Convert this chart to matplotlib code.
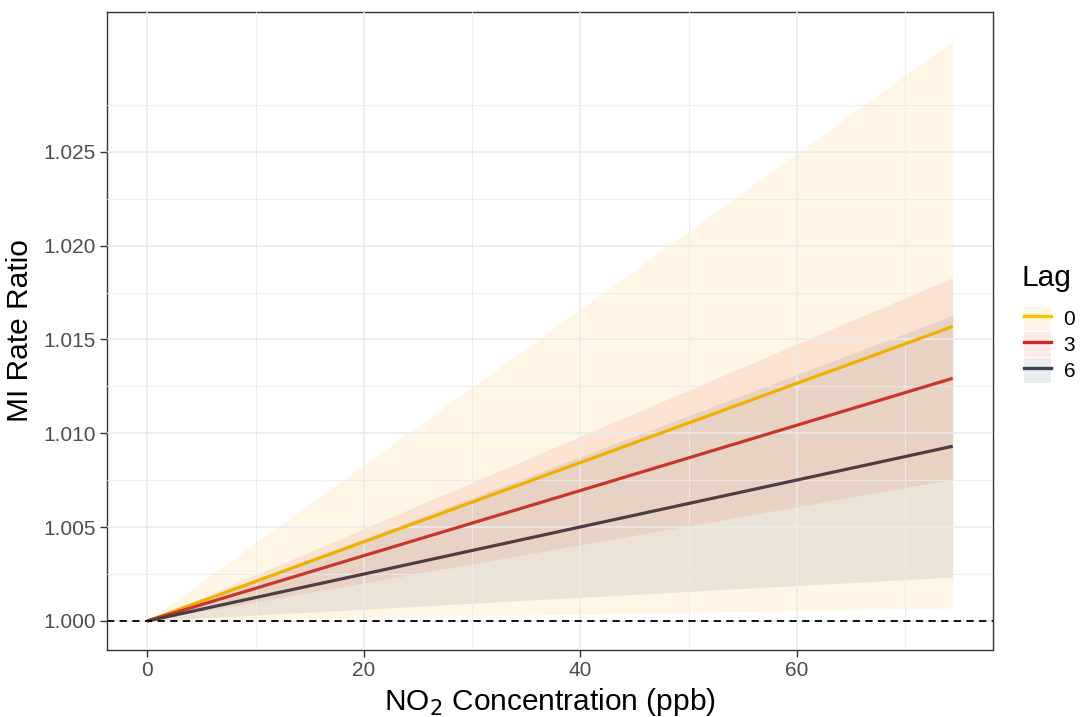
import matplotlib
matplotlib.use("Agg")
import matplotlib.pyplot as plt
from matplotlib.patches import Patch
from matplotlib.lines import Line2D
from matplotlib.legend_handler import HandlerTuple

plt.rcParams['font.family'] = ['Liberation Sans', 'DejaVu Sans']

# Data
no2 = [0, 20, 40, 60, 74.4]
lags = ["0", "3", "6"]
est_lag0 = [1.0, 1.00422, 1.00844, 1.01266, 1.01569]
lo_lag0 = [1.0, 1.00019, 1.00037, 1.00056, 1.00069]
hi_lag0 = [1.0, 1.00831, 1.01661, 1.02492, 1.0309]
est_lag3 = [1.0, 1.00348, 1.00695, 1.01043, 1.01293]
lo_lag3 = [1.0, 1.00203, 1.00406, 1.00609, 1.00755]
hi_lag3 = [1.0, 1.00492, 1.00984, 1.01476, 1.0183]
est_lag6 = [1.0, 1.0025, 1.00501, 1.00751, 1.00931]
lo_lag6 = [1.0, 1.00063, 1.00126, 1.00189, 1.00234]
hi_lag6 = [1.0, 1.00438, 1.00875, 1.01313, 1.01628]

fill_cols = ["#FFAE00", "#E8402A", "#3C4659"]
line_cols = ["#F0B000", "#C8352A", "#4E3D42"]
legend_line_cols = ["#F7C200", "#D0262A", "#3A4458"]
alpha = 0.1

fig = plt.figure(figsize=(10.88, 7.17), dpi=100)
ax = fig.add_axes([107/1088, 1 - 650/717, (993-107)/1088, (650-12)/717])

ests = [est_lag0, est_lag3, est_lag6]
los = [lo_lag0, lo_lag3, lo_lag6]
his = [hi_lag0, hi_lag3, hi_lag6]

for i in range(3):
    ax.fill_between(no2, los[i], his[i], color=fill_cols[i], alpha=alpha,
                    linewidth=0, zorder=2)
for i in range(3):
    ax.plot(no2, ests[i], color=line_cols[i], lw=2.3, zorder=4,
            solid_capstyle='butt')

ax.axhline(1.0, color='black', lw=1.3, ls=(0, (4, 3)), zorder=5)

xmin, xmax = 0, 74.4
xr = xmax - xmin
ax.set_xlim(xmin - 0.05*xr, xmax + 0.05*xr)
ymin, ymax = 1.0, 1.0309
yr = ymax - ymin
ax.set_ylim(ymin - 0.05*yr, ymax + 0.05*yr)

ax.set_xticks([0, 20, 40, 60])
ax.set_xticks([10, 30, 50, 70], minor=True)
yt = [1.000, 1.005, 1.010, 1.015, 1.020, 1.025]
ax.set_yticks(yt)
ax.set_yticklabels([f"{v:.3f}" for v in yt])
ax.set_yticks([1.0025, 1.0075, 1.0125, 1.0175, 1.0225, 1.0275], minor=True)

ax.grid(True, which='major', color='#EBEBEB', lw=1.1, zorder=1)
ax.grid(True, which='minor', color='#EBEBEB', lw=0.6, zorder=1)
ax.set_axisbelow(False)
for gl in ax.get_xgridlines() + ax.get_ygridlines():
    gl.set_zorder(3)

for s in ax.spines.values():
    s.set_color('#333333')
    s.set_linewidth(1.0)
ax.tick_params(which='major', length=5, width=1, color='#333333',
               labelsize=15, labelcolor='#4D4D4D', pad=3)
ax.tick_params(which='minor', length=0)

ax.set_xlabel(r"NO$_2$ Concentration (ppb)", fontsize=21.5, color='black', labelpad=4)
ax.set_ylabel("MI Rate Ratio", fontsize=21.5, color='black', labelpad=7)

handles = []
for i in range(3):
    p = Patch(facecolor=fill_cols[i], alpha=alpha, edgecolor='none')
    l = Line2D([0], [0], color=legend_line_cols[i], lw=2.4)
    handles.append((p, l))
fig.text(1022/1088, 1 - 278/717, "Lag", fontsize=21.5, ha='left', va='center')
leg = fig.legend(handles, lags, loc='upper left',
                 bbox_to_anchor=(1024/1088, 1 - 306/717), frameon=False,
                 handler_map={tuple: HandlerTuple(ndivide=1, pad=0)},
                 fontsize=15, handlelength=1.3,
                 handleheight=1.45, labelspacing=0.06, handletextpad=0.6,
                 borderaxespad=0, borderpad=0)

fig.savefig("out.png", dpi=100)
